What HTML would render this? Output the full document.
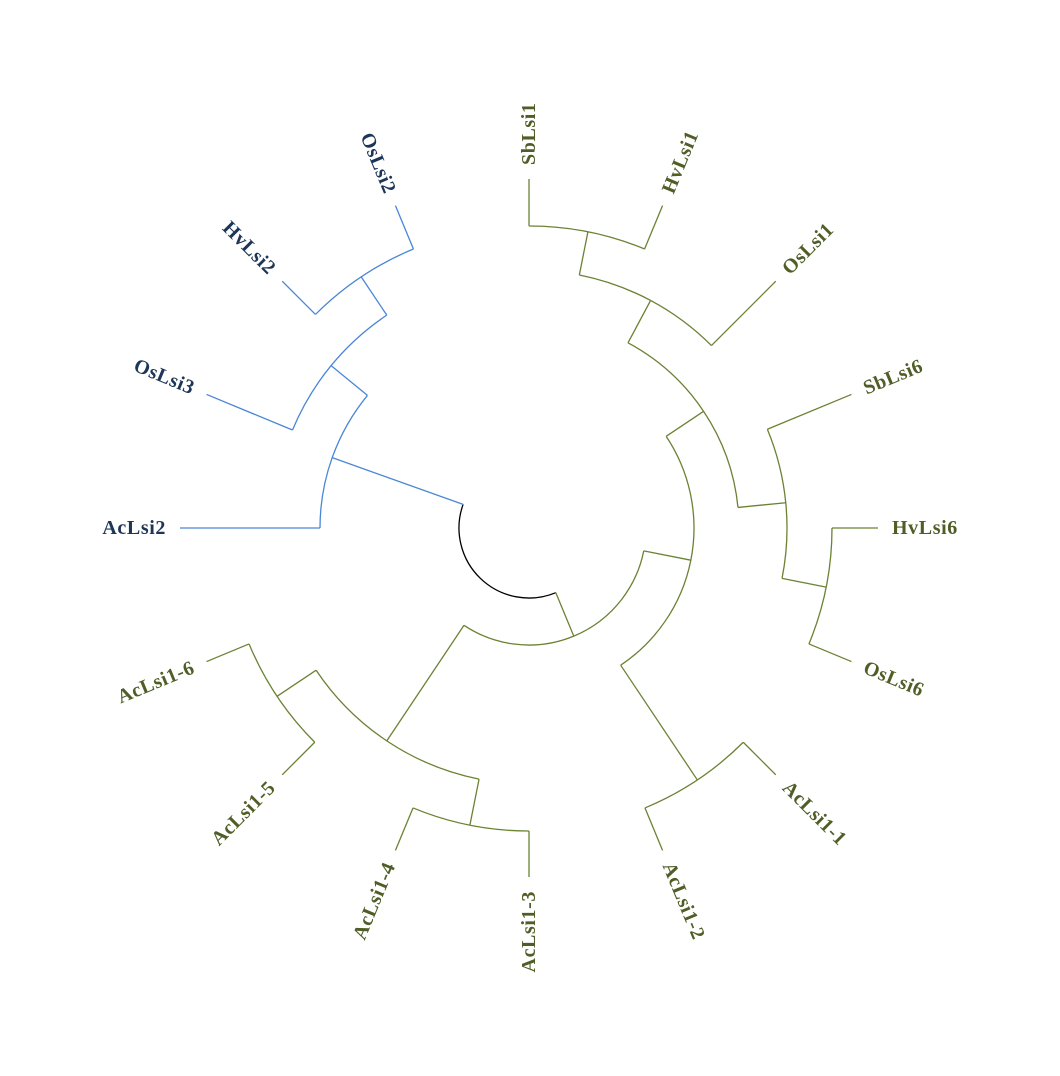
<!DOCTYPE html>
<html>
<head>
<meta charset="utf-8">
<style>
  html, body { margin: 0; padding: 0; background: #ffffff; }
  svg { display: block; }
  text { font-family: "Liberation Serif", serif; font-weight: bold; font-size: 20px; letter-spacing: 0.6px; }
</style>
</head>
<body>
<svg id="chart" width="1060" height="1076" viewBox="0 0 1060 1076" xmlns="http://www.w3.org/2000/svg"></svg>
<script>
// Leaf order (clockwise starting from top)
const leafNames = ["SbLsi1","HvLsi1","OsLsi1","SbLsi6","HvLsi6","OsLsi6","AcLsi1-1","AcLsi1-2","AcLsi1-3","AcLsi1-4","AcLsi1-5","AcLsi1-6","AcLsi2","OsLsi3","HvLsi2","OsLsi2"];
// Internal node ids, node depths (radius units), and children
const nodeIds = ["root","blue","b2","b3","green","g1","gC","gD","g2","gA","gA1","gA1a","gA2","gA2a","gB"];
const nodeDepths = [70,209,256,302,117,256,303,303,165,210,258,302,258,303,303];
const nodeChildren = [
  ["green","blue"],
  ["AcLsi2","b2"],
  ["OsLsi3","b3"],
  ["HvLsi2","OsLsi2"],
  ["g2","g1"],
  ["gC","gD"],
  ["AcLsi1-3","AcLsi1-4"],
  ["AcLsi1-5","AcLsi1-6"],
  ["gA","gB"],
  ["gA1","gA2"],
  ["gA1a","OsLsi1"],
  ["SbLsi1","HvLsi1"],
  ["SbLsi6","gA2a"],
  ["HvLsi6","OsLsi6"],
  ["AcLsi1-1","AcLsi1-2"]
];
const blueNodes = ["blue","b2","b3","AcLsi2","OsLsi3","HvLsi2","OsLsi2"];
const leafDepth = 349;

const cx = 529, cy = 528, angStart = -90, angStep = 22.5;
const svg = document.getElementById('chart');
const NS = "http://www.w3.org/2000/svg";
const rad = a => a * Math.PI / 180;
const px = (r,a) => cx + r * Math.cos(rad(a));
const py = (r,a) => cy + r * Math.sin(rad(a));

const depth = {}, angle = {}, kids = {};
leafNames.forEach((n,i) => { depth[n] = leafDepth; angle[n] = angStart + angStep * i; });
nodeIds.forEach((n,i) => { depth[n] = nodeDepths[i]; kids[n] = nodeChildren[i]; });
function calcAngle(n) {
  if (angle[n] !== undefined) return angle[n];
  const a = kids[n].map(calcAngle);
  angle[n] = (Math.min(...a) + Math.max(...a)) / 2;
  return angle[n];
}
calcAngle("root");

function colorOf(n) {
  if (n === "root") return "#000000";
  return blueNodes.includes(n) ? "#4a86d6" : "#6b8233";
}
function branchColorOfChild(c) { return blueNodes.includes(c) ? "#4a86d6" : "#6b8233"; }

function draw(n) {
  if (!kids[n]) return;
  const r = depth[n];
  const ch = kids[n];
  const angs = ch.map(c => angle[c]);
  const a0 = Math.min(...angs), a1 = Math.max(...angs);
  const arc = document.createElementNS(NS, "path");
  const large = (a1 - a0) > 180 ? 1 : 0;
  arc.setAttribute("d", `M${px(r,a0)},${py(r,a0)} A${r},${r} 0 ${large} 1 ${px(r,a1)},${py(r,a1)}`);
  arc.setAttribute("fill", "none");
  arc.setAttribute("stroke", colorOf(n));
  arc.setAttribute("stroke-width", "1.3");
  
  
  svg.appendChild(arc);
  ch.forEach(c => {
    const a = angle[c];
    const ln = document.createElementNS(NS, "line");
    ln.setAttribute("x1", px(r,a)); ln.setAttribute("y1", py(r,a));
    ln.setAttribute("x2", px(depth[c],a)); ln.setAttribute("y2", py(depth[c],a));
    ln.setAttribute("stroke", branchColorOfChild(c));
    ln.setAttribute("stroke-width", "1.3");
    
    
    svg.appendChild(ln);
    draw(c);
  });
}
draw("root");

leafNames.forEach(n => {
  const a = angle[n];
  const r = leafDepth + 14;
  const x = px(r,a), y = py(r,a);
  const t = document.createElementNS(NS, "text");
  const flip = a >= 90 && a < 270;
  const rot = flip ? a - 180 : a;
  t.setAttribute("x", x); t.setAttribute("y", y);
  t.setAttribute("text-anchor", flip ? "end" : "start");
  t.setAttribute("dominant-baseline", "central");
  t.setAttribute("transform", `rotate(${rot} ${x} ${y})`);
  t.setAttribute("fill", blueNodes.includes(n) ? "#1d3658" : "#4f5e27");
  t.textContent = n;
  
  
  svg.appendChild(t);
});
</script>
</body>
</html>
